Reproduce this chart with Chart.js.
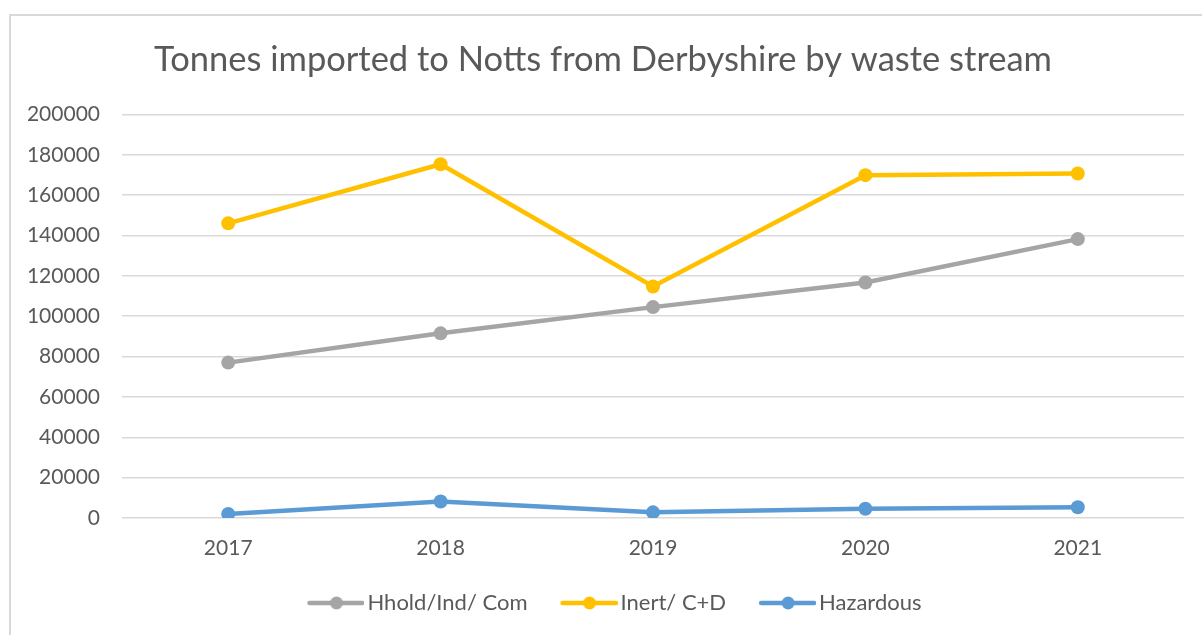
<!DOCTYPE html>
<html lang="en">
<head>
    <meta charset="UTF-8">
    <title>Tonnes imported to Notts from Derbyshire</title>
    <script src="https://cdn.jsdelivr.net/npm/chart.js"></script>
    <style>
        html, body {
            margin: 0;
            padding: 0;
            background: #ffffff;
            overflow: hidden;
            width: 1202px;
            height: 635px;
        }
        #frame {
            position: absolute;
            left: 9px;
            top: 14px;
            width: 1300px;
            height: 700px;
            border: 2px solid #d9d9d9;
        }
        #chart {
            position: absolute;
            left: 0;
            top: 0;
        }
    </style>
</head>
<body>
    <div id="frame"></div>
    <canvas id="chart" width="1202" height="635"></canvas>

    <script>
        const years = ['2017', '2018', '2019', '2020', '2021'];
        const hholdIndCom = [77000, 91500, 104500, 116700, 138200];
        const inertCD = [146000, 175300, 114700, 169900, 170700];
        const hazardous = [2000, 8200, 2800, 4600, 5300];

        const textColor = '#595959';
        const fontFamily = 'Lato, sans-serif';

        // legend marker: short line with a dot, drawn on a small canvas
        function legendMarker(color) {
            const c = document.createElement('canvas');
            c.width = 88;
            c.height = 16;
            const g = c.getContext('2d');
            g.strokeStyle = color;
            g.lineWidth = 4.5;
            g.lineCap = 'round';
            g.beginPath();
            g.moveTo(33, 8);
            g.lineTo(86, 8);
            g.stroke();
            g.fillStyle = color;
            g.beginPath();
            g.arc(60, 8, 6.5, 0, Math.PI * 2);
            g.fill();
            return c;
        }

        function series(label, data, color) {
            return {
                label: label,
                data: data,
                borderColor: color,
                backgroundColor: color,
                borderWidth: 4.5,
                pointRadius: 7,
                pointHoverRadius: 7,
                pointBorderWidth: 0,
                tension: 0,
                fill: false,
                marker: legendMarker(color)
            };
        }

        new Chart(document.getElementById('chart'), {
            type: 'line',
            data: {
                labels: years,
                datasets: [
                    series('Hhold/Ind/ Com', hholdIndCom, '#a5a5a5'),
                    series('Inert/ C+D', inertCD, '#ffc000'),
                    series('Hazardous', hazardous, '#5b9bd5')
                ]
            },
            options: {
                responsive: false,
                animation: false,
                layout: {
                    padding: { left: 22, right: 18, top: 0, bottom: 11 }
                },
                plugins: {
                    title: {
                        display: true,
                        text: 'Tonnes imported to Notts from Derbyshire by waste stream',
                        color: textColor,
                        font: { family: fontFamily, size: 34.5, weight: 'normal' },
                        padding: { top: 39.5, bottom: 33.5 }
                    },
                    legend: {
                        position: 'bottom',
                        labels: {
                            usePointStyle: true,
                            pointStyleWidth: 72,
                            padding: 10,
                            color: textColor,
                            font: { family: fontFamily, size: 22 },
                            generateLabels: function(chart) {
                                return chart.data.datasets.map((ds, i) => ({
                                    text: ds.label,
                                    fontColor: textColor,
                                    pointStyle: ds.marker,
                                    datasetIndex: i,
                                    hidden: false,
                                    lineWidth: 0
                                }));
                            }
                        }
                    },
                    tooltip: { enabled: false }
                },
                scales: {
                    x: {
                        offset: true,
                        grid: { display: false, drawTicks: false },
                        border: { display: false },
                        ticks: {
                            color: textColor,
                            font: { family: fontFamily, size: 21 },
                            padding: 18
                        },
                        afterFit: function(scale) { scale.height = 64; }
                    },
                    y: {
                        min: 0,
                        max: 200000,
                        grid: { color: '#d9d9d9', lineWidth: 1.5, drawTicks: false },
                        border: { display: false },
                        ticks: {
                            stepSize: 20000,
                            color: textColor,
                            font: { family: fontFamily, size: 21 },
                            padding: 22,
                            callback: function(v) { return String(v); }
                        },
                        afterFit: function(scale) { scale.width = 100; }
                    }
                }
            }
        });
    </script>
</body>
</html>
